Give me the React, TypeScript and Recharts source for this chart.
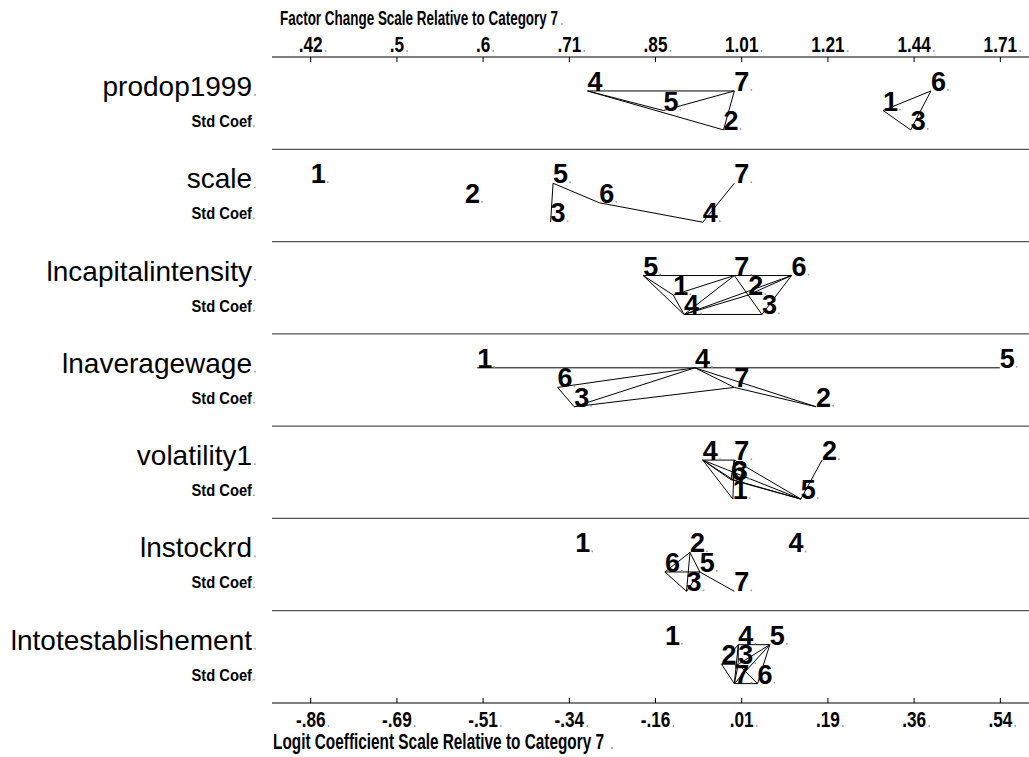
import React from 'react';
import { ScatterChart, Scatter, XAxis, YAxis, ReferenceLine } from 'recharts';

const variables = ['prodop1999', 'scale', 'lncapitalintensity', 'lnaveragewage', 'volatility1', 'lnstockrd', 'lntotestablishement'];
const categories = ['1', '2', '3', '4', '5', '6', '7'];

// logit coefficients relative to category 7, categories 1..7
const prodop1999 = [0.302, -0.022, 0.358, -0.298, -0.144, 0.399, 0];
const scale = [-0.86, -0.547, -0.373, -0.064, -0.368, -0.274, 0];
const lncapitalintensity = [-0.124, 0.028, 0.056, -0.102, -0.185, 0.116, 0];
const lnaveragewage = [-0.522, 0.166, -0.325, -0.08, 0.539, -0.359, 0];
const volatility1 = [-0.003, 0.178, -0.003, -0.064, 0.135, -0.007, 0];
const lnstockrd = [-0.323, -0.09, -0.097, 0.11, -0.07, -0.141, 0];
const lntotestablishement = [-0.141, -0.026, 0.008, 0.008, 0.072, 0.047, 0];

// vertical label row (1 = upper, 3 = lower) for categories 1..7
const rowsProdop = [2, 3, 3, 1, 2, 1, 1];
const rowsScale = [1, 2, 3, 3, 1, 2, 1];
const rowsCapital = [2, 2, 3, 3, 1, 1, 1];
const rowsWage = [1, 3, 3, 1, 1, 2, 2];
const rowsVolatility = [3, 1, 2, 1, 3, 2, 1];
const rowsStock = [1, 1, 3, 1, 2, 2, 3];
const rowsEstab = [1, 2, 2, 1, 1, 3, 3];

// pairs of categories joined by a line (not significantly different)
const edgesProdop = [[4, 7], [4, 5], [4, 2], [5, 7], [7, 2], [1, 6], [1, 3], [6, 3]];
const edgesScale = [[5, 3], [5, 6], [6, 4], [4, 7]];
const edgesCapital = [[5, 7], [7, 6], [4, 3], [5, 1], [5, 4], [1, 4], [1, 7], [4, 7], [4, 6], [4, 2], [7, 3], [6, 3], [6, 2]];
const edgesWage = [[1, 4], [4, 5], [4, 6], [4, 3], [4, 7], [4, 2], [6, 3], [3, 7], [7, 2]];
const edgesVolatility = [[4, 7], [4, 1], [4, 6], [4, 3], [4, 5], [7, 6], [7, 3], [7, 1], [6, 5], [3, 5], [2, 5], [7, 5]];
const edgesStock = [[2, 6], [2, 3], [2, 5], [6, 5], [6, 3], [3, 5], [5, 7]];
const edgesEstab = [[4, 5], [7, 6], [2, 7], [4, 7], [4, 2], [4, 3], [5, 7], [5, 6], [5, 3], [3, 7], [3, 6], [2, 3]];

const bottomTicks = [-0.86, -0.685, -0.51, -0.335, -0.16, 0.015, 0.19, 0.365, 0.54];
const bottomTickLabels = ['-.86', '-.69', '-.51', '-.34', '-.16', '.01', '.19', '.36', '.54'];
const topTickLabels = ['.42', '.5', '.6', '.71', '.85', '1.01', '1.21', '1.44', '1.71'];

const panelValues = [prodop1999, scale, lncapitalintensity, lnaveragewage, volatility1, lnstockrd, lntotestablishement];
const panelRows = [rowsProdop, rowsScale, rowsCapital, rowsWage, rowsVolatility, rowsStock, rowsEstab];
const panelEdges = [edgesProdop, edgesScale, edgesCapital, edgesWage, edgesVolatility, edgesStock, edgesEstab];
const rowOffsets = [0.368, 0.58, 0.79];

const FONT = '"Liberation Sans", Arial, Helvetica, sans-serif';

const points = panelValues.flatMap((vals, p) =>
  vals.map((v, j) => ({ x: v, y: p + rowOffsets[panelRows[p][j] - 1], label: categories[j] }))
);

const pointOf = (p: number, cat: number) => ({
  x: panelValues[p][cat - 1],
  y: p + rowOffsets[panelRows[p][cat - 1] - 1],
});

const Dot = ({ x, y }: { x: number; y: number }) => <circle cx={x} cy={y} r={0.9} fill="#9a9a9a" />;

const labelWidth = (s: string, fs: number, sx: number) => {
  let w = 0;
  for (const ch of s) w += ch === '.' ? 0.278 : ch === '-' ? 0.333 : 0.556;
  return w * fs * sx;
};

const TICK_FS = 21.5;
const TICK_SX = 0.8;

const BottomTick = (props: any) => {
  const { x, y, payload } = props;
  const idx = bottomTicks.indexOf(payload.value);
  const s = bottomTickLabels[idx];
  const w = labelWidth(s, TICK_FS, TICK_SX);
  return (
    <g>
      <line x1={x} y1={y - 5} x2={x} y2={y} stroke="#000" strokeWidth={1} />
      <text transform={`translate(${x} ${y + 24}) scale(${TICK_SX} 1)`} textAnchor="middle" fontFamily={FONT} fontWeight="bold" fontSize={TICK_FS} fill="#000">{s}</text>
      <Dot x={x + w / 2 + 3} y={y + 23} />
    </g>
  );
};

const TopTick = (props: any) => {
  const { x, y, payload } = props;
  const idx = bottomTicks.indexOf(payload.value);
  const s = topTickLabels[idx];
  const w = labelWidth(s, TICK_FS, TICK_SX);
  return (
    <g>
      <line x1={x} y1={y} x2={x} y2={y + 5} stroke="#000" strokeWidth={1} />
      <text transform={`translate(${x} ${y - 5}) scale(${TICK_SX} 1)`} textAnchor="middle" fontFamily={FONT} fontWeight="bold" fontSize={TICK_FS} fill="#000">{s}</text>
      <Dot x={x + w / 2 + 3} y={y - 6} />
    </g>
  );
};

const NameTick = (props: any) => {
  const { y, payload } = props;
  const p = payload.value as number;
  if (p < 0 || p > 6) return null;
  return (
    <g>
      <text x={252} y={y + 39} textAnchor="end" fontFamily={FONT} fontSize={28} fill="#000">{variables[p]}</text>
      <Dot x={255} y={y + 38} />
      <text transform={`translate(252 ${y + 70}) scale(0.92 1)`} textAnchor="end" fontFamily={FONT} fontWeight="bold" fontSize={16} fill="#000">Std Coef</text>
      <Dot x={254} y={y + 69} />
    </g>
  );
};

const DigitShape = (props: any) => {
  const { cx, cy, payload } = props;
  return (
    <g>
      <text x={cx} y={cy} fontFamily={FONT} fontWeight="bold" fontSize={27} fill="#000">{payload.label}</text>
      <Dot x={cx + 17} y={cy - 1} />
    </g>
  );
};

const TopTitle = (props: any) => {
  const vb = props.viewBox || { x: 272, y: 0 };
  return (
    <g>
      <text x={vb.x + 8} y={25} textLength={278} lengthAdjust="spacingAndGlyphs" fontFamily={FONT} fontWeight="bold" fontSize={19.5} fill="#000">Factor Change Scale Relative to Category 7</text>
      <Dot x={vb.x + 8 + 282} y={24} />
    </g>
  );
};

const BottomTitle = (props: any) => {
  const vb = props.viewBox || { x: 272, y: 703 };
  return (
    <g>
      <text x={vb.x + 1} y={vb.y + 46} textLength={331} lengthAdjust="spacingAndGlyphs" fontFamily={FONT} fontWeight="bold" fontSize={21.5} fill="#000">Logit Coefficient Scale Relative to Category 7</text>
      <Dot x={vb.x + 1 + 339} y={vb.y + 45} />
    </g>
  );
};

export default function App() {
  return (
    <div style={{ position: 'absolute', left: 0, top: 0, background: '#fff' }}>
      <ScatterChart width={1029} height={757} margin={{ top: 0, right: 0, bottom: 0, left: 0 }}>
        <XAxis
          xAxisId="bottom"
          type="number"
          dataKey="x"
          orientation="bottom"
          domain={[-0.9386, 0.5982]}
          allowDataOverflow
          ticks={bottomTicks}
          interval={0}
          height={54}
          tickSize={0}
          tickMargin={0}
          tickLine={false}
          axisLine={{ stroke: '#000', strokeWidth: 1.2 }}
          tick={<BottomTick />}
          label={{ content: (p: any) => <BottomTitle {...p} /> }}
        />
        <XAxis
          xAxisId="top"
          type="number"
          dataKey="x"
          orientation="top"
          domain={[-0.9386, 0.5982]}
          allowDataOverflow
          ticks={bottomTicks}
          interval={0}
          height={57}
          tickSize={0}
          tickMargin={0}
          tickLine={false}
          axisLine={{ stroke: '#000', strokeWidth: 1.2 }}
          tick={<TopTick />}
          label={{ content: (p: any) => <TopTitle {...p} /> }}
        />
        <YAxis
          type="number"
          dataKey="y"
          domain={[0, 7]}
          reversed
          ticks={[0, 1, 2, 3, 4, 5, 6]}
          interval={0}
          width={272}
          tickSize={0}
          tickMargin={0}
          tickLine={false}
          axisLine={false}
          tick={<NameTick />}
        />
        {[1, 2, 3, 4, 5, 6].map((k) => (
          <ReferenceLine key={'sep' + k} xAxisId="bottom" y={k} stroke="#555" strokeWidth={1.3} />
        ))}
        {panelEdges.flatMap((edges, p) =>
          edges.map(([a, b], i) => (
            <ReferenceLine
              key={`e${p}-${i}`}
              xAxisId="bottom"
              segment={[pointOf(p, a), pointOf(p, b)]}
              stroke="#000"
              strokeWidth={1}
              ifOverflow="visible"
            />
          ))
        )}
        <Scatter xAxisId="bottom" data={points} isAnimationActive={false} shape={<DigitShape />} />
      </ScatterChart>
    </div>
  );
}
